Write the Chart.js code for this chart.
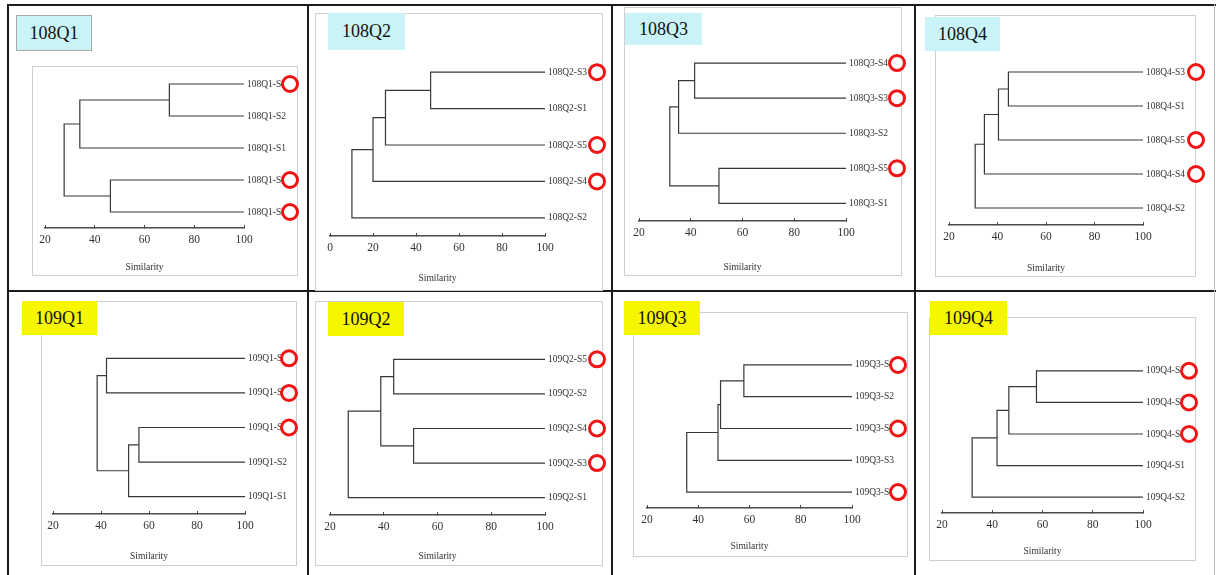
<!DOCTYPE html>
<html>
<head>
<meta charset="utf-8">
<script src="https://cdn.jsdelivr.net/npm/chart.js@4.4.1/dist/chart.umd.min.js"></script>
<style>
  html, body { margin: 0; padding: 0; background: #fff; }
  body { width: 1216px; height: 575px; position: relative; overflow: hidden; font-family: 'Liberation Serif', 'DejaVu Serif', serif; }
  .rule { position: absolute; background: #1c1c1c; }
  .box { position: absolute; border: 1px solid #cfcfcf; background: #fff; box-sizing: border-box; }
  .tag { position: absolute; font-size: 18px; color: #111; display: flex; align-items: center; justify-content: center; box-sizing: border-box; }
  canvas { position: absolute; }
</style>
</head>
<body>
<script>
// Leaves are listed top to bottom. Each link is [childA, childB, similarity]:
// children 0-4 are leaves, 5 and up are the links made before it.
const leaves108Q1 = ['108Q1-S4', '108Q1-S2', '108Q1-S1', '108Q1-S5', '108Q1-S3'];
const links108Q1  = [[0, 1, 70], [5, 2, 34], [3, 4, 46.3], [6, 7, 27.7]];
const marked108Q1 = [0, 3, 4];

const leaves108Q2 = ['108Q2-S3', '108Q2-S1', '108Q2-S5', '108Q2-S4', '108Q2-S2'];
const links108Q2  = [[0, 1, 46.8], [5, 2, 25.8], [6, 3, 20], [7, 4, 10.2]];
const marked108Q2 = [0, 2, 3];

const leaves108Q3 = ['108Q3-S4', '108Q3-S3', '108Q3-S2', '108Q3-S5', '108Q3-S1'];
const links108Q3  = [[0, 1, 41.5], [5, 2, 35.3], [3, 4, 50.9], [6, 7, 31.9]];
const marked108Q3 = [0, 1, 3];

const leaves108Q4 = ['108Q4-S3', '108Q4-S1', '108Q4-S5', '108Q4-S4', '108Q4-S2'];
const links108Q4  = [[0, 1, 44.5], [5, 2, 40.4], [6, 3, 34.6], [7, 4, 30.8]];
const marked108Q4 = [0, 2, 3];

const leaves109Q1 = ['109Q1-S5', '109Q1-S4', '109Q1-S3', '109Q1-S2', '109Q1-S1'];
const links109Q1  = [[0, 1, 42.3], [2, 3, 55.8], [6, 4, 51.5], [5, 7, 38.4]];
const marked109Q1 = [0, 1, 2];

const leaves109Q2 = ['109Q2-S5', '109Q2-S2', '109Q2-S4', '109Q2-S3', '109Q2-S1'];
const links109Q2  = [[0, 1, 43.7], [2, 3, 51.1], [5, 6, 38.9], [7, 4, 26.8]];
const marked109Q2 = [0, 2, 3];

const leaves109Q3 = ['109Q3-S4', '109Q3-S2', '109Q3-S5', '109Q3-S3', '109Q3-S1'];
const links109Q3  = [[0, 1, 57.8], [5, 2, 48.7], [6, 3, 47.7], [7, 4, 35.5]];
const marked109Q3 = [0, 2, 4];

const leaves109Q4 = ['109Q4-S5', '109Q4-S3', '109Q4-S4', '109Q4-S1', '109Q4-S2'];
const links109Q4  = [[0, 1, 57.6], [5, 2, 46.6], [6, 3, 41.9], [7, 4, 32]];
const marked109Q4 = [0, 1, 2];

const ticksFrom0  = [0, 20, 40, 60, 80, 100];
const ticksFrom20 = [20, 40, 60, 80, 100];
const axisTitle = 'Similarity';

const CYAN = '#c9f3f6';
const YELLOW = '#f6f600';

// page layout: cell, framed box, name tag, plot area, title centre, ring offset
const panels = [
  { name: '108Q1', leaves: leaves108Q1, links: links108Q1, marked: marked108Q1, ticks: ticksFrom20, tagColor: CYAN, tagBorder: true,
    cell: [9, 6, 298, 284], box: [32, 66, 266, 210], tag: [16, 15, 76, 36], plot: { l: 45, r: 244, t: 68, b: 228 }, titleY: 267, ringDx: 46 },
  { name: '108Q2', leaves: leaves108Q2, links: links108Q2, marked: marked108Q2, ticks: ticksFrom0, tagColor: CYAN,
    cell: [309, 6, 302, 284], box: [315, 13, 288, 278], tag: [328, 13, 77, 37], plot: { l: 330, r: 545, t: 54, b: 236 }, titleY: 278, ringDx: 52 },
  { name: '108Q3', leaves: leaves108Q3, links: links108Q3, marked: marked108Q3, ticks: ticksFrom20, tagColor: CYAN,
    cell: [613, 6, 301, 284], box: [624, 7, 278, 269], tag: [625, 13, 77, 32], plot: { l: 639, r: 846, t: 45.5, b: 221 }, titleY: 267, ringDx: 51 },
  { name: '108Q4', leaves: leaves108Q4, links: links108Q4, marked: marked108Q4, ticks: ticksFrom20, tagColor: CYAN,
    cell: [916, 6, 298, 284], box: [935, 15, 261, 262], tag: [925, 17, 75, 34], plot: { l: 949, r: 1143, t: 55, b: 225 }, titleY: 268, ringDx: 53 },
  { name: '109Q1', leaves: leaves109Q1, links: links109Q1, marked: marked109Q1, ticks: ticksFrom20, tagColor: YELLOW,
    cell: [9, 292, 298, 283], box: [41, 301, 256, 265], tag: [22, 301, 75, 34], plot: { l: 53, r: 245, t: 341, b: 514 }, titleY: 556, ringDx: 44 },
  { name: '109Q2', leaves: leaves109Q2, links: links109Q2, marked: marked109Q2, ticks: ticksFrom20, tagColor: YELLOW,
    cell: [309, 292, 302, 283], box: [315, 301, 288, 265], tag: [328, 302, 76, 34], plot: { l: 330, r: 545, t: 342, b: 515 }, titleY: 556, ringDx: 52 },
  { name: '109Q3', leaves: leaves109Q3, links: links109Q3, marked: marked109Q3, ticks: ticksFrom20, tagColor: YELLOW,
    cell: [613, 292, 301, 283], box: [633, 312, 275, 245], tag: [624, 301, 76, 34], plot: { l: 647, r: 852, t: 349, b: 508 }, titleY: 546, ringDx: 46 },
  { name: '109Q4', leaves: leaves109Q4, links: links109Q4, marked: marked109Q4, ticks: ticksFrom20, tagColor: YELLOW,
    cell: [916, 292, 298, 283], box: [929, 317, 267, 244], tag: [930, 301, 77, 34], plot: { l: 942, r: 1143, t: 355, b: 513 }, titleY: 551, ringDx: 46 }
];

function el(tag, cls, x, y, w, h) {
  const d = document.createElement(tag);
  if (cls) d.className = cls;
  Object.assign(d.style, { left: x + 'px', top: y + 'px', width: w + 'px', height: h + 'px' });
  document.body.appendChild(d);
  return d;
}

// table rules
el('div', 'rule', 7, 4, 1209, 2);
el('div', 'rule', 7, 290, 1209, 2);
[7, 307, 611, 914].forEach(x => el('div', 'rule', x, 4, 2, 571));
el('div', 'rule', 1214, 4, 1, 571).style.background = '#bdbdbd';

// each link is a bracket: child A's stem, the joining bar, child B's stem
function linkDatasets(links, n) {
  const nodes = [];
  for (let i = 0; i < n; i++) nodes.push({ pos: i, sim: 100 });
  return links.map(([a, b, s]) => {
    const A = nodes[a], B = nodes[b];
    nodes.push({ pos: (A.pos + B.pos) / 2, sim: s });
    return {
      data: [{ x: A.sim, y: A.pos }, { x: s, y: A.pos }, { x: s, y: B.pos }, { x: B.sim, y: B.pos }],
      showLine: true, borderColor: '#383838', borderWidth: 1.2, pointRadius: 0, tension: 0, fill: false
    };
  });
}

const ringPlugin = {
  id: 'rings',
  afterDraw(chart, args, opts) {
    const { ctx, chartArea, scales } = chart;
    ctx.save();
    ctx.lineWidth = 3;
    ctx.strokeStyle = '#f01414';
    ctx.fillStyle = '#ffffff';
    opts.marked.forEach(i => {
      const y = scales.y.getPixelForValue(i);
      const x = chartArea.right + opts.dx;
      ctx.beginPath();
      ctx.arc(x, y, 7.5, 0, Math.PI * 2);
      ctx.fill();
      ctx.stroke();
    });
    ctx.restore();
  }
};

const serif = "'Liberation Serif', 'DejaVu Serif', serif";

panels.forEach(p => {
  const [cx, cy, cw, ch] = p.cell;
  el('div', 'box', ...p.box);

  const canvas = el('canvas', null, cx, cy, cw, ch);
  canvas.width = cw;
  canvas.height = ch;

  const tag = el('div', 'tag', ...p.tag);
  tag.style.background = p.tagColor;
  if (p.tagBorder) tag.style.border = '1px solid #a9a9a9';
  tag.textContent = p.name;

  const titleSize = 9.5, titleLH = titleSize * 1.2;
  const yWidth = cx + cw - p.plot.r;
  const xHeight = cy + ch - p.plot.b;
  const titlePad = cy + ch - p.titleY - titleLH / 2;

  new Chart(canvas, {
    type: 'scatter',
    data: { datasets: linkDatasets(p.links, p.leaves.length) },
    plugins: [ringPlugin],
    options: {
      responsive: false,
      animation: false,
      devicePixelRatio: 1,
      layout: { padding: { left: p.plot.l - cx, top: p.plot.t - cy, right: 0, bottom: 0 } },
      plugins: {
        legend: { display: false },
        tooltip: { enabled: false },
        rings: { marked: p.marked, dx: p.ringDx }
      },
      scales: {
        x: {
          type: 'linear',
          position: 'bottom',
          min: p.ticks[0],
          max: p.ticks[p.ticks.length - 1],
          afterBuildTicks: s => { s.ticks = p.ticks.map(v => ({ value: v })); },
          afterFit: s => { s.height = xHeight; },
          border: { display: true, color: '#4a4a4a', width: 1.5 },
          grid: { drawOnChartArea: false, drawTicks: true, tickLength: -3, color: '#4a4a4a', lineWidth: 1 },
          ticks: { padding: 8, color: '#333', font: { family: serif, size: 11.5 }, maxRotation: 0, autoSkip: false },
          title: { display: true, text: axisTitle, color: '#333', font: { family: serif, size: titleSize, lineHeight: 1.2 }, padding: { top: 0, bottom: titlePad } }
        },
        y: {
          type: 'linear',
          position: 'right',
          reverse: true,
          min: -0.5,
          max: p.leaves.length - 0.5,
          afterBuildTicks: s => { s.ticks = p.leaves.map((_, i) => ({ value: i })); },
          afterFit: s => { s.width = yWidth; },
          border: { display: false },
          grid: { display: false, drawTicks: false },
          ticks: {
            padding: 3, color: '#333', autoSkip: false,
            font: { family: serif, size: 9.5 },
            callback: v => p.leaves[v]
          }
        }
      }
    }
  });
});
</script>
</body>
</html>
